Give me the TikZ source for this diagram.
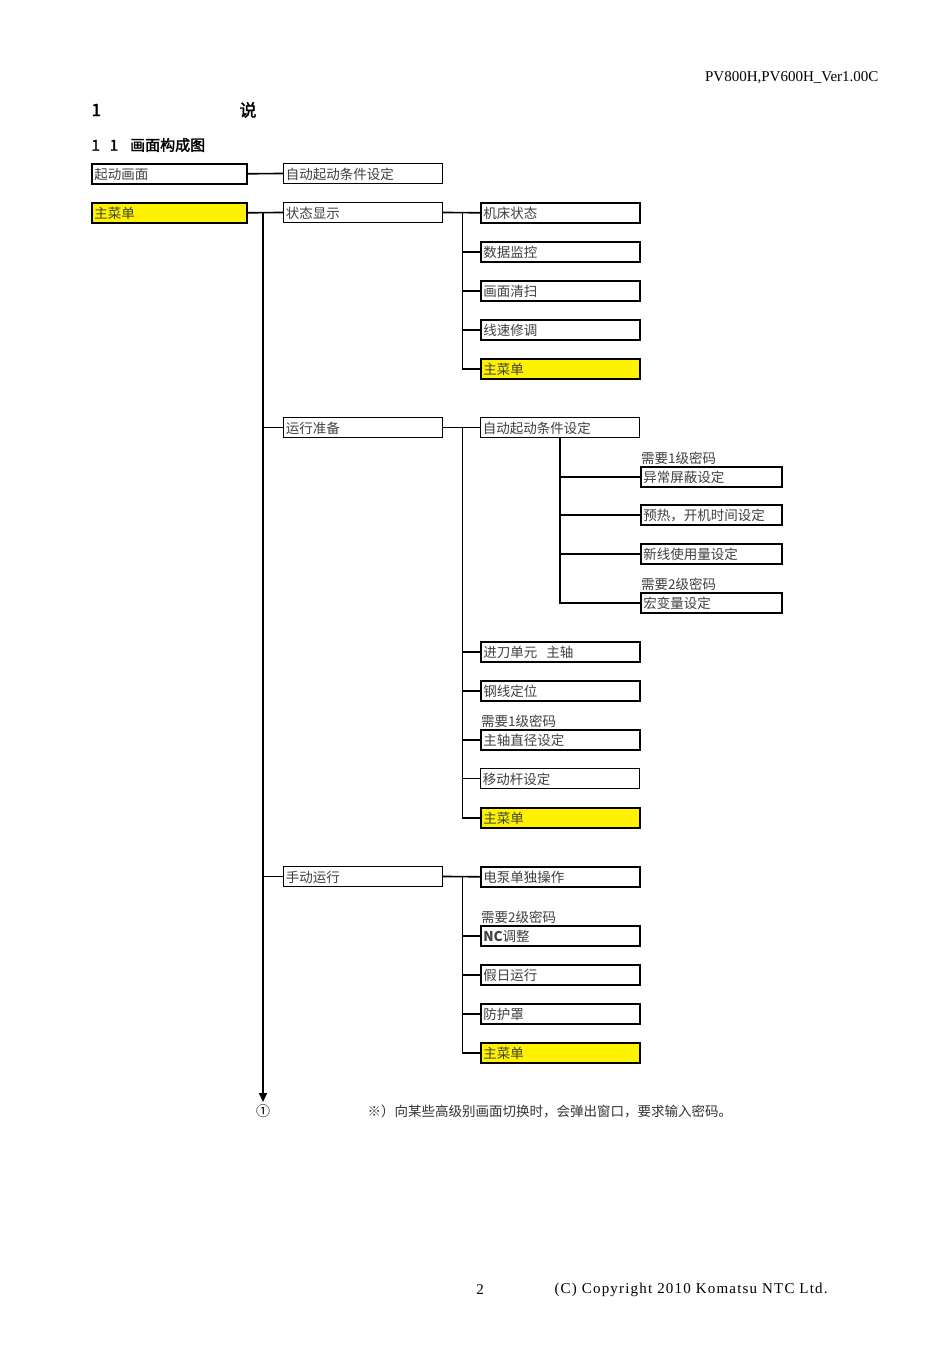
\documentclass[tikz,border=0pt]{standalone}
\usepackage{fontspec}
\setmainfont{Liberation Serif}
\newfontfamily\cjk{Noto Sans CJK SC}
\newfontfamily\cjkb{Noto Sans CJK SC}[FakeBold=2]
\newfontfamily\wide{Liberation Serif}[LetterSpace=8]
\usetikzlibrary{arrows.meta}
\begin{document}
\begin{tikzpicture}[x=1pt,y=-1pt,
 bx/.style={draw=black,line width=1.6pt,anchor=north west,minimum height=20pt,inner sep=1.5pt,font=\cjk\fontsize{13.5}{13.5}\selectfont,text=black!75,align=left,text depth=0pt},
 wA/.style={minimum width=155pt,text width=150pt},
 wB/.style={minimum width=159pt,text width=154pt},
 wC/.style={minimum width=141pt,text width=136pt},
 ylw/.style={fill=yellow},
 ln/.style={line width=1.6pt},
 lt/.style={line width=0.9pt},
 lab/.style={anchor=south west,inner sep=1pt,font=\cjk\fontsize{13.5}{13.5}\selectfont,text=black!75}]
\useasboundingbox (0,0) rectangle (950,1345);
\fill[white] (0,0) rectangle (950,1345);
\node[anchor=east,font=\fontsize{15}{15}\selectfont] (hdr) at (882,78) {PV800H,PV600H\_Ver1.00C};
\node[anchor=west,font=\cjkb\fontsize{17}{17}\selectfont] (t1) at (88,110) {1};
\node[anchor=west,font=\cjkb\fontsize{17}{17}\selectfont] (t2) at (236,110) {说};
\node[anchor=west,font=\cjkb\fontsize{15}{15}\selectfont] (t3) at (88,145) {1\hspace{10pt}1\hspace{12pt}画面构成图};
% column 1
\node[bx,wA] (a1) at (91,163) {起动画面};
\node[bx,wA,ylw] (a2) at (91,202) {主菜单};
% column 2
\node[bx,wB,lt] (b0) at (283,163) {自动起动条件设定};
\node[bx,wB,lt] (b1) at (283,202) {状态显示};
\node[bx,wB,lt] (b2) at (283,417) {运行准备};
\node[bx,wB,lt] (b3) at (283,866) {手动运行};
% column 3
\node[bx,wB] (c1) at (480,202) {机床状态};
\node[bx,wB] (c2) at (480,241) {数据监控};
\node[bx,wB] (c3) at (480,280) {画面清扫};
\node[bx,wB] (c4) at (480,319) {线速修调};
\node[bx,wB,ylw] (c5) at (480,358) {主菜单};
\node[bx,wB,lt] (d0) at (480,417) {自动起动条件设定};
\node[bx,wB] (d1) at (480,641) {进刀单元\ \ 主轴};
\node[bx,wB] (d2) at (480,680) {钢线定位};
\node[bx,wB] (d3) at (480,729) {主轴直径设定};
\node[lab] (l3) at (d3.north west) {需要1级密码};
\node[bx,wB,lt] (d4) at (480,768) {移动杆设定};
\node[bx,wB,ylw] (d5) at (480,807) {主菜单};
\node[bx,wB] (e1) at (480,866) {电泵单独操作};
\node[bx,wB] (e2) at (480,925) {\textbf{NC}调整};
\node[lab] (l4) at (e2.north west) {需要2级密码};
\node[bx,wB] (e3) at (480,964) {假日运行};
\node[bx,wB] (e4) at (480,1003) {防护罩};
\node[bx,wB,ylw] (e5) at (480,1042) {主菜单};
% column 4
\node[bx,wC] (f1) at (640,466) {异常屏蔽设定};
\node[lab] (l1) at (f1.north west) {需要1级密码};
\node[bx,wC] (f2) at (640,504) {预热，开机时间设定};
\node[bx,wC] (f3) at (640,543) {新线使用量设定};
\node[bx,wC] (f4) at (640,592) {宏变量设定};
\node[lab] (l2) at (f4.north west) {需要2级密码};
% connectors
\draw[ln] (a1.east) -- (b0.west);
\draw[ln] (a2.east) -- (b1.west);
\coordinate (tr) at (263,212);
\coordinate (tre) at (263,1102);
\draw[ln,-{Triangle[length=9pt,width=8pt]}] (tr) -- (tre);
\draw[lt] (tr |- b2.west) -- (b2.west);
\draw[lt] (tr |- b3.west) -- (b3.west);
\foreach \p/\k in {b1/c1,b2/d0,b3/e1}{
  \draw[ln] (\p.east) -- (\k.west);
}
\foreach \s/\e in {c1/c5,d0/d5,e1/e5}{
  \draw[lt] (462,0 |- \s.west) -- (462,0 |- \e.west);
}
\foreach \n in {c2,c3,c4,c5,d1,d2,d3,d4,d5,e2,e3,e4,e5}{
  \draw[ln] (462,0 |- \n.west) -- (\n.west);
}
\coordinate (ft) at (560,437);
\draw[ln] (ft) -- (ft |- f4.west) -- (f4.west);
\foreach \n in {f1,f2,f3}{ \draw[ln] (ft |- \n.west) -- (\n.west); }
% footer
\node[font=\cjk\fontsize{14}{14}\selectfont] (circ) at (263,1111) {①};
\node[anchor=west,font=\cjk\fontsize{13.5}{13.5}\selectfont,text=black!80] (note) at (364,1111) {※）向某些高级别画面切换时，会弹出窗口，要求输入密码。};
\node[font=\fontsize{15}{15}\selectfont] (pg) at (480,1290) {2};
\node[anchor=west,font=\wide\fontsize{15}{15}\selectfont] (cp) at (551,1290) {(C) Copyright 2010 Komatsu NTC Ltd.};
\end{tikzpicture}
\end{document}
